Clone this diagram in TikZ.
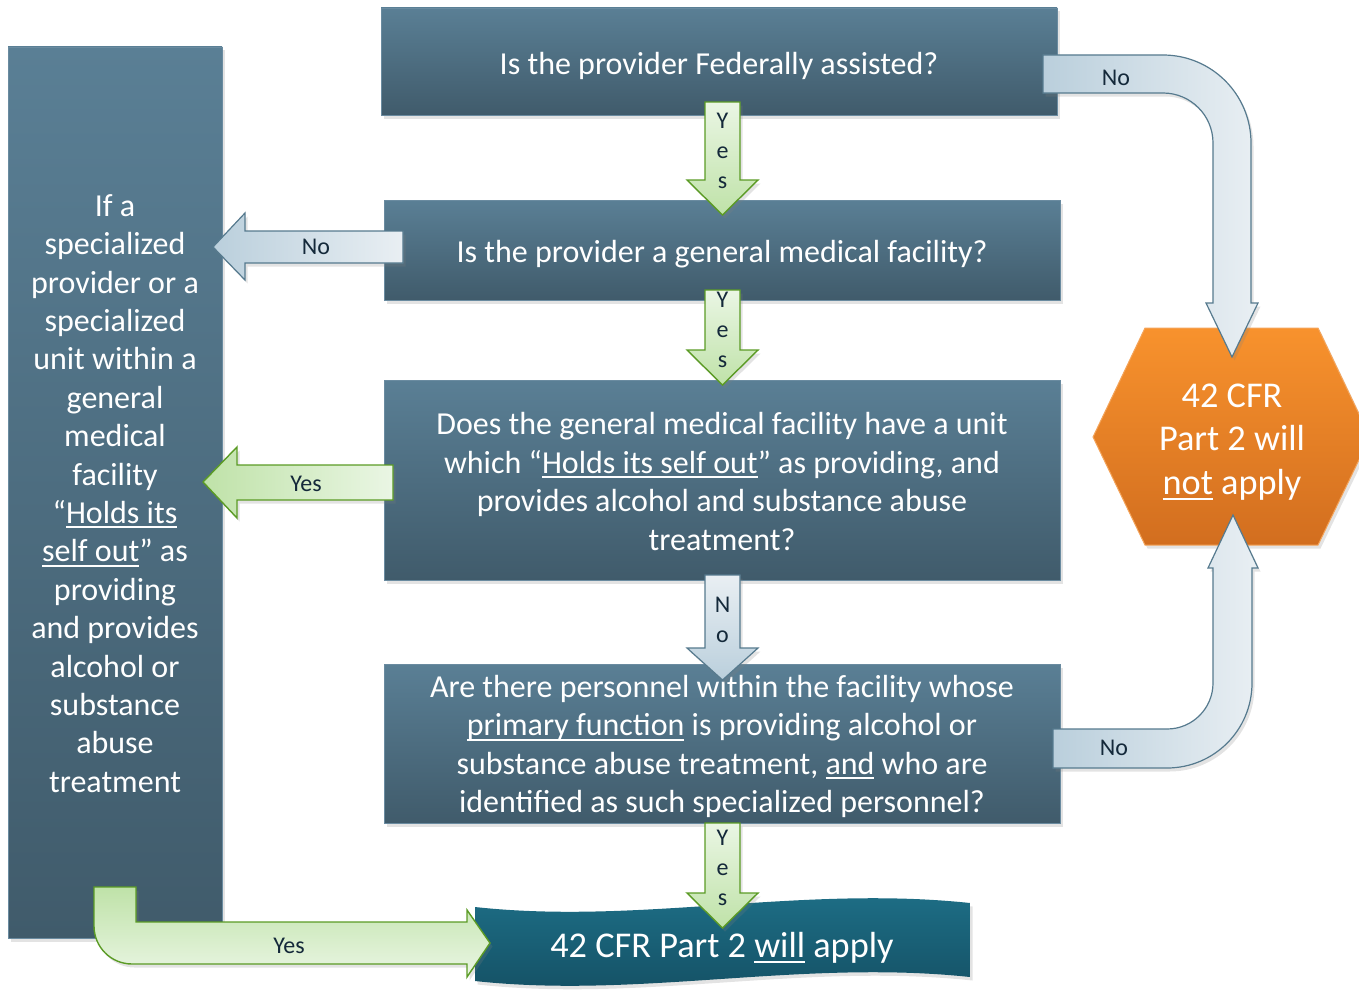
\documentclass[tikz,border=0pt]{standalone}
\usepackage{fontspec}
\setmainfont{Carlito}
\usetikzlibrary{shadows}
\definecolor{boxtop}{HTML}{5A7F95}
\definecolor{boxbot}{HTML}{405B6B}
\definecolor{boxline}{HTML}{6A8BA0}
\definecolor{greenline}{HTML}{5B9B25}
\definecolor{greenA}{HTML}{BFE2A8}
\definecolor{greenB}{HTML}{EAF6E4}
\definecolor{blueline}{HTML}{567A8E}
\definecolor{blueA}{HTML}{BACFDC}
\definecolor{blueB}{HTML}{E9EFF3}
\definecolor{lbltext}{HTML}{14293A}
\definecolor{hextop}{HTML}{F8922D}
\definecolor{hexbot}{HTML}{D26E1F}
\definecolor{hexline}{HTML}{F4A45A}
\definecolor{bantop}{HTML}{1E7088}
\definecolor{banbot}{HTML}{144F63}
\newcommand\uln[1]{\setbox0=\hbox{#1}\rlap{\raisebox{-0.15em}{\rule{\wd0}{0.06em}}}\box0\relax}
\begin{document}
\begin{tikzpicture}[x=1pt,y=-1pt,
  shad/.style={drop shadow={opacity=0.22,shadow xshift=2.5pt,shadow yshift=-3.5pt}},
  qbox/.style={draw=boxline, line width=0.8pt, top color=boxtop, bottom color=boxbot,
    inner sep=0pt, shad},
  qtext/.style={text=white, align=center, font=\fontsize{32}{38.4}\selectfont, inner sep=0pt},
  big/.style={text=white, align=center, font=\fontsize{36.3}{43.5}\selectfont, inner sep=0pt},
  garrow/.style={draw=greenline, line width=1.4pt, line join=miter, shad},
  barrow/.style={draw=blueline, line width=1.2pt, line join=miter, shad},
  lbl/.style={text=lbltext, font=\fontsize{24}{30}\selectfont, align=center, inner sep=0pt}]
\useasboundingbox (0,0) rectangle (1359,990);
\clip (0,0) rectangle (1359,990);

% question boxes
\node[qbox, minimum width=214, minimum height=891] (left) at (115,492.5) {};
\node[qtext] (lefttext) at ([yshift=-1pt]left.center)
  {If a\\specialized\\provider or a\\specialized\\unit within a\\general\\medical\\facility\\“\uln{Holds its}\\\uln{self out}” as\\providing\\and provides\\alcohol or\\substance\\abuse\\treatment};
\node[qbox, minimum width=676, minimum height=107] (q1) at (719,61.5) {};
\node[qtext] (q1text) at ([yshift=-4pt]q1.center) {Is the provider Federally assisted?};
\node[qbox, minimum width=676, minimum height=100] (q2) at (722,250) {};
\node[qtext] (q2text) at ([yshift=-4pt]q2.center) {Is the provider a general medical facility?};
\node[qbox, minimum width=676, minimum height=200] (q3) at (722,480) {};
\node[qtext] (q3text) at ([yshift=-1.5pt]q3.center)
  {Does the general medical facility have a unit\\which “\uln{Holds its self out}” as providing, and\\provides alcohol and substance abuse\\treatment?};
\node[qbox, minimum width=676, minimum height=159] (q4) at (722,743.5) {};
\node[qtext] (q4text) at ([yshift=-3pt]q4.center)
  {Are there personnel within the facility whose\\\uln{primary function} is providing alcohol or\\substance abuse treatment, \uln{and} who are\\identified as such specialized personnel?};

% hexagon result
\path[draw=hexline, line width=1pt, top color=hextop, bottom color=hexbot, shad]
  (1093,437) -- (1145,328) -- (1318,328) -- (1370,437) -- (1318,545) -- (1145,545) -- cycle;
\node[big] (notapply) at (1232,442) {42 CFR\\Part 2 will\\\uln{not} apply};

% wave banner result
\path[top color=bantop, bottom color=banbot, shad]
  (475,907) .. controls (640,925) and (800,885) .. (970,903) -- (970,977)
  .. controls (800,959) and (640,999) .. (475,981) -- cycle;
\node[big] (apply) at (722,948) {42 CFR Part 2 \uln{will} apply};

% down arrows
\path[garrow, top color=greenB, bottom color=greenA]
  (705,102) -- (740,102) -- (740,180) -- (758,180) -- (722.5,215) -- (687,180) -- (705,180) -- cycle;
\node[lbl] (y1) at (722.5,151) {Y\\e\\s};
\path[garrow, top color=greenB, bottom color=greenA]
  (705,290) -- (740,290) -- (740,350) -- (758,350) -- (722.5,385) -- (687,350) -- (705,350) -- cycle;
\node[lbl] (y2) at (722.5,330) {Y\\e\\s};
\path[barrow, top color=blueB, bottom color=blueA]
  (705,575) -- (740,575) -- (740,648) -- (758,648) -- (722.5,680) -- (687,648) -- (705,648) -- cycle;
\node[lbl] (n3) at (722.5,620) {N\\o};
\path[garrow, top color=greenB, bottom color=greenA]
  (705,823) -- (740,823) -- (740,893) -- (758,893) -- (722.5,928) -- (687,893) -- (705,893) -- cycle;
\node[lbl] (y4) at (722.5,868) {Y\\e\\s};

% left arrows
\path[barrow, left color=blueA, right color=blueB]
  (403,231) -- (245,231) -- (245,213) -- (213,247) -- (245,280) -- (245,263) -- (403,263) -- cycle;
\node[lbl] (n2) at (316,247) {No};
\path[garrow, left color=greenA, right color=greenB]
  (393,465) -- (237,465) -- (237,447) -- (203,482) -- (237,518) -- (237,500) -- (393,500) -- cycle;
\node[lbl] (y3) at (306,484) {Yes};

% curved No arrows to hexagon
\path[barrow, left color=blueA, right color=blueB]
  (1043,55) -- (1163,55) .. controls (1211.6,55) and (1251,94.4) .. (1251,143)
  -- (1251,303) -- (1258,303) -- (1232,357) -- (1206,303) -- (1213,303) -- (1213,143)
  .. controls (1213,115.4) and (1190.6,93) .. (1163,93) -- (1043,93) -- cycle;
\node[lbl] (n1) at (1116,78) {No};
\path[barrow, left color=blueA, right color=blueB]
  (1053,729) -- (1167,729) .. controls (1192.4,729) and (1213,708.4) .. (1213,683)
  -- (1213,568) -- (1208,568) -- (1233,515) -- (1258,568) -- (1252,568) -- (1252,683)
  .. controls (1252,730) and (1214,768) .. (1167,768) -- (1053,768) -- cycle;
\node[lbl] (n4) at (1114,748) {No};

% bent Yes arrow to banner
\path[garrow, top color=greenA, bottom color=greenB]
  (94,887) -- (136,887) -- (136,922) -- (467,922) -- (467,910) -- (490,943) -- (467,977)
  -- (467,964) -- (132,964) .. controls (111,964) and (94,947) .. (94,926) -- cycle;
\node[lbl] (y5) at (289,946) {Yes};
\end{tikzpicture}
\end{document}
